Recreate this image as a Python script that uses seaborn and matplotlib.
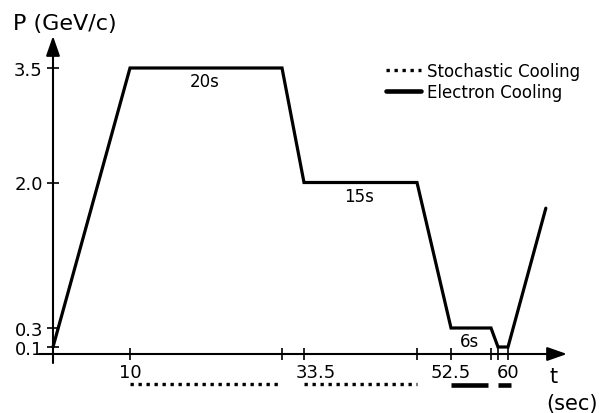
import numpy as np
import pandas as pd
import matplotlib
matplotlib.use("Agg")
import matplotlib.pyplot as plt
from matplotlib.lines import Line2D
from matplotlib.transforms import ScaledTranslation
import seaborn as sns

# Momentum cycle: corner points (time in s, momentum in GeV/c)
cycle_t = [0, 10, 30, 33.5, 48.5, 52.5, 58.5, 59.2, 60, 65]
cycle_p = [0.1, 3.5, 3.5, 2.0, 2.0, 0.3, 0.3, 0.1, 0.1, 1.7]

# Flat-top plateaus and their durations
plateau_labels = ["20s", "15s", "6s"]
plateau_start = [10, 33.5, 52.5]
plateau_end = [30, 48.5, 58.5]
plateau_level = [3.5, 2.0, 0.3]

# Cooling periods (start, end) in s
stochastic_on = [(10, 30), (33.5, 48.5)]
electron_on = [(52.5, 58.0), (59.2, 60.4)]

# Axis ticks
p_ticks = [0.1, 0.3, 2.0, 3.5]
p_tick_labels = ["0.1", "0.3", "2.0", "3.5"]
t_ticks = [10, 33.5, 52.5, 60]
t_tick_labels = ["10", "33.5", "52.5", "60"]
t_ticks_unlabeled = [30, 48.5, 58.5, 59.2]

# Schematic (piecewise-linear) axis scales, expressed in canvas pixels
T_KNOTS = np.array([-20, 0, 10, 30, 33.5, 48.5, 52.5, 58.5, 59.2, 60, 90])
T_PIX = np.array([-101, 53, 130, 282, 304, 417, 451, 491, 498, 508, 735.0])
P_KNOTS = np.array([-5, 0, 0.1, 0.3, 2.0, 3.5, 10])
P_PIX = -np.array([705, 355, 348, 329, 183.5, 69, -427.0])


def t_fwd(t):
    return np.interp(t, T_KNOTS, T_PIX)


def t_inv(u):
    return np.interp(u, T_PIX, T_KNOTS)


def p_fwd(p):
    return np.interp(p, P_KNOTS, P_PIX)


def p_inv(u):
    return np.interp(u, P_PIX, P_KNOTS)


def tx(px):
    return float(t_inv(px))


def py(px):
    return float(p_inv(-px))


sns.set_theme(style="white")
plt.rcParams["font.family"] = ["DejaVu Sans"]
plt.rcParams["text.color"] = "black"
plt.rcParams["xtick.color"] = "black"
plt.rcParams["ytick.color"] = "black"
plt.rcParams["axes.labelcolor"] = "black"

W, H, DPI = 603, 414, 100
fig = plt.figure(figsize=(W / DPI, H / DPI), dpi=DPI)
ax = fig.add_axes([0, 0, 1, 1])
ax.set_facecolor("white")
ax.set_xscale("function", functions=(t_fwd, t_inv))
ax.set_yscale("function", functions=(p_fwd, p_inv))
ax.set_xlim(tx(0), tx(W))
ax.set_ylim(py(H), py(0))

df = pd.DataFrame({"t": cycle_t, "P": cycle_p})
sns.lineplot(data=df, x="t", y="P", sort=False, estimator=None,
             color="black", lw=2.3, ax=ax, zorder=5,
             solid_joinstyle="miter")

# Axis lines with arrow heads
arrow_kw = dict(arrowstyle="-|>,head_length=1.2,head_width=0.42",
                lw=1.5, color="black", mutation_scale=10,
                shrinkA=0, shrinkB=0)
ax.annotate("", xy=(tx(567), 0), xytext=(tx(39), 0), arrowprops=arrow_kw)
ax.annotate("", xy=(0, py(37)), xytext=(0, py(364)), arrowprops=arrow_kw)

for s in ax.spines.values():
    s.set_visible(False)
ax.spines["left"].set_position(("data", 0))
ax.spines["bottom"].set_position(("data", 0))

ax.set_yticks(p_ticks, p_tick_labels)
ax.set_xticks(t_ticks, t_tick_labels)
ax.set_xticks(t_ticks_unlabeled, minor=True)
ax.set_yticks([], minor=True)
ax.tick_params(axis="both", which="both", direction="inout", length=8.5,
               width=1.2, color="black", labelcolor="black", bottom=True,
               left=True, top=False, right=False)
ax.tick_params(axis="x", which="major", labelsize=13, pad=2)
ax.tick_params(axis="y", which="major", labelsize=13, pad=3)
ax.set_xlabel("")
ax.set_ylabel("")
ax.grid(False)

# "33.5" sits a little to the right of its tick
lab = ax.get_xticklabels()[1]
lab.set_transform(lab.get_transform() +
                  ScaledTranslation(12 / DPI, 0, fig.dpi_scale_trans))

# Plateau duration labels
for name, a, b, lvl in zip(plateau_labels, plateau_start, plateau_end,
                           plateau_level):
    mid = float(t_inv((t_fwd(a) + t_fwd(b)) / 2))
    ax.annotate(name, xy=(mid, lvl), xytext=(-1, -9.5),
                textcoords="offset points", ha="center", va="center",
                fontsize=12, color="black")

# Cooling periods under the time axis
ax.hlines([py(385)] * len(stochastic_on), [a for a, b in stochastic_on],
          [b for a, b in stochastic_on], colors="black", lw=2.4,
          linestyles=[(0, (1, 1.4))])
ax.hlines([py(386)] * len(electron_on), [a for a, b in electron_on],
          [b for a, b in electron_on], colors="black", lw=3.3)

# Legend
handles = [Line2D([], [], color="black", lw=2.4, linestyle=(0, (1, 1.4))),
           Line2D([], [], color="black", lw=3.3)]
leg = ax.legend(handles, ["Stochastic Cooling", "Electron Cooling"],
                loc="upper left", bbox_to_anchor=(386 / W, 1 - 63 / H),
                frameon=False, fontsize=12, handlelength=2.1,
                handletextpad=0.35, labelspacing=0.15, borderpad=0,
                borderaxespad=0)
for t in leg.get_texts():
    t.set_color("black")

# Axis titles
fig.text(13 / W, 1 - 24 / H, "P (GeV/c)", fontsize=16, ha="left",
         va="center", color="black")
fig.text(554 / W, 1 - 377 / H, "t", fontsize=15, ha="center", va="center",
         color="black")
fig.text(546 / W, 1 - 404 / H, "(sec)", fontsize=15, ha="left",
         va="center", color="black")

fig.savefig("out.png", dpi=DPI)
